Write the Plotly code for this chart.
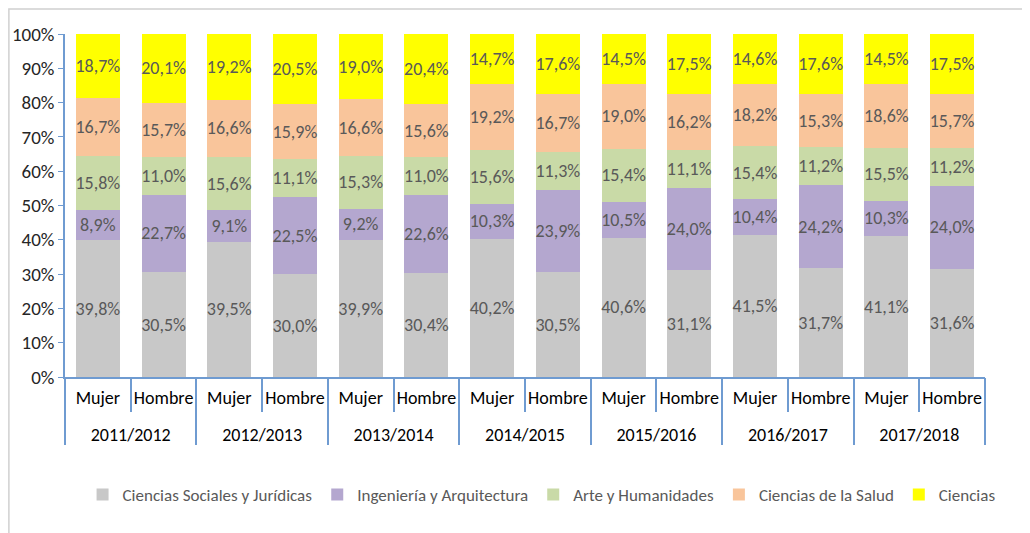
import plotly.graph_objects as go

years = ["2011/2012", "2012/2013", "2013/2014", "2014/2015",
         "2015/2016", "2016/2017", "2017/2018"]
sexes = ["Mujer", "Hombre"]

sociales = [39.8, 30.5, 39.5, 30.0, 39.9, 30.4, 40.2, 30.5, 40.6, 31.1, 41.5, 31.7, 41.1, 31.6]
ingenieria = [8.9, 22.7, 9.1, 22.5, 9.2, 22.6, 10.3, 23.9, 10.5, 24.0, 10.4, 24.2, 10.3, 24.0]
arte = [15.8, 11.0, 15.6, 11.1, 15.3, 11.0, 15.6, 11.3, 15.4, 11.1, 15.4, 11.2, 15.5, 11.2]
salud = [16.7, 15.7, 16.6, 15.9, 16.6, 15.6, 19.2, 16.7, 19.0, 16.2, 18.2, 15.3, 18.6, 15.7]
ciencias = [18.7, 20.1, 19.2, 20.5, 19.0, 20.4, 14.7, 17.6, 14.5, 17.5, 14.6, 17.6, 14.5, 17.5]

series = [
    ("Ciencias Sociales y Jurídicas", sociales, "#C8C8C8"),
    ("Ingeniería y Arquitectura", ingenieria, "#B4A7CF"),
    ("Arte y Humanidades", arte, "#C9DAA7"),
    ("Ciencias de la Salud", salud, "#F9C59B"),
    ("Ciencias", ciencias, "#FFFF00"),
]

x_keys = [f"{y} {s}" for y in years for s in sexes]
x_inner = [s for _ in years for s in sexes]

FONT = "Calibri, Carlito, Lato, sans-serif"
AXIS_BLUE = "#6F9BD1"

fig = go.Figure()
for name, vals, color in series:
    labels = [f"{v:.1f}".replace(".", ",") + "%" for v in vals]
    fig.add_trace(go.Bar(
        x=x_keys, y=vals, name=name,
        marker=dict(color=color, line=dict(width=0)),
        text=labels, textposition="inside", insidetextanchor="middle",
        textangle=0, constraintext="none",
        textfont=dict(family=FONT, size=18, color="#595959"),
        hoverinfo="skip",
    ))

# empty helper trace so the year axis gets drawn
fig.add_trace(go.Scatter(x=list(range(len(years))), y=[None] * len(years),
                         xaxis="x2", yaxis="y", mode="lines",
                         showlegend=False, hoverinfo="skip"))

# the page body adds an 8px offset, so the figure is a bit smaller than the window
fig.update_layout(
    width=1022, height=525,
    barmode="stack", barnorm="percent", bargap=0.33,
    plot_bgcolor="white", paper_bgcolor="white",
    margin=dict(l=57, r=45, t=26, b=156),
    font=dict(family=FONT, size=18, color="#000000"),
    legend=dict(orientation="h", x=0.518, xanchor="center", y=-0.344, yanchor="middle",
                traceorder="normal", font=dict(family=FONT, size=17, color="#595959"),
                itemwidth=30, tracegroupgap=0),
    shapes=[dict(type="rect", xref="paper", yref="paper",
                 x0=-0.061, x1=1.2, y0=-0.7, y1=1.073,
                 line=dict(color="#D0D0D0", width=1.5), layer="below")],
)
fig.update_yaxes(range=[0, 100], dtick=10, ticksuffix="%", showgrid=False,
                 showline=True, linecolor=AXIS_BLUE, linewidth=1.5,
                 ticks="outside", ticklen=5, tickcolor=AXIS_BLUE, automargin=False,
                 tickfont=dict(family=FONT, size=19, color="#262626"), zeroline=False)
fig.update_layout(
    xaxis=dict(type="category", tickvals=x_keys, ticktext=x_inner, tickangle=0,
               showline=True, linecolor=AXIS_BLUE, linewidth=1.5,
               ticks="outside", tickson="boundaries", ticklen=33, tickcolor=AXIS_BLUE,
               tickwidth=1.5, ticklabelstandoff=4, automargin=False,
               tickfont=dict(family=FONT, size=18, color="#000000")),
    # second axis for the academic years and the group dividers
    xaxis2=dict(overlaying="x", anchor="y", side="bottom",
                range=[-0.5, len(years) - 0.5], tickangle=0,
                tickmode="array", tickvals=list(range(len(years))), ticktext=years,
                ticks="", showgrid=False, zeroline=False, showline=False,
                ticklabelstandoff=45, automargin=False,
                minor=dict(tickmode="array",
                           tickvals=[i - 0.5 for i in range(len(years) + 1)],
                           ticks="outside", ticklen=67, tickcolor=AXIS_BLUE,
                           tickwidth=1.5, showgrid=False),
                tickfont=dict(family=FONT, size=18, color="#000000")),
)

fig.write_html("out.html")
